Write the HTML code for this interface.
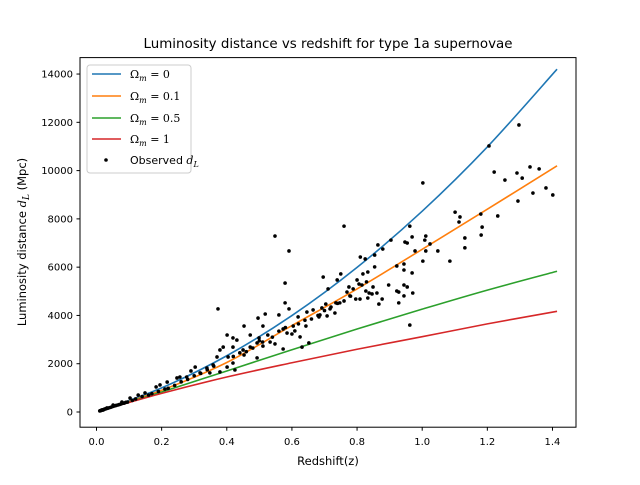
<!DOCTYPE html>
<html><head><meta charset="utf-8"><style>
body{margin:0;background:#fff}
svg text{font-family:"DejaVu Sans","Liberation Sans",sans-serif;fill:#000}
.m{font-family:"DejaVu Serif","Liberation Serif",serif}
</style></head><body>
<svg id="chart" width="640" height="480" viewBox="0 0 640 480" xmlns="http://www.w3.org/2000/svg">
<rect width="640" height="480" fill="#fff"/>
<text x="328" y="48" font-size="13.4" text-anchor="middle">Luminosity distance vs redshift for type 1a supernovae</text>
<g id="plot"></g>
<rect x="80" y="57.6" width="496" height="369.6" fill="none" stroke="#000" stroke-width="1"/>
<g id="xt"></g><g id="yt"></g>
<text x="328" y="465" font-size="11.5" text-anchor="middle">Redshift(z)</text>
<text transform="translate(26,242) rotate(-90)" font-size="11.5" text-anchor="middle">Luminosity distance <tspan class="m" font-style="italic">d</tspan><tspan class="m" font-style="italic" font-size="9" dy="3">L</tspan><tspan dy="-3"> (Mpc)</tspan></text>
<g>
<rect x="87" y="65" width="104" height="108" rx="3" fill="#fff" fill-opacity="0.8" stroke="#ccc"/>
<g id="leg"></g>
</g>
</svg>
<script>
const zGrid=[0.01,0.2,0.4,0.6,0.8,1.0,1.2,1.414];
const dOm0=[42,998,2330,3994,5990,8320,10982,14200];
const dOm01=[42,900,2050,3580,5100,6740,8400,10200];
const dOm05=[42,830,1700,2580,3440,4260,5050,5830];
const dOm1=[42,770,1450,2040,2600,3120,3650,4170];
const obsZ=[1.297,1.205,1.221,1.291,1.307,1.331,1.359,1.254,1.340,1.380,1.401,1.294,1.232,1.180,1.184,1.181,1.101,1.116,1.113,1.131,1.131,1.085,1.048,1.002,1.002,0.962,0.969,1.011,1.008,1.024,1.011,0.978,0.947,0.954,0.969,0.944,0.944,0.922,0.904,0.864,0.854,0.879,0.854,0.897,0.922,0.928,0.944,0.954,0.971,0.944,0.928,0.962,0.760,0.810,0.825,0.833,0.818,0.750,0.739,0.696,0.711,0.800,0.829,0.775,0.788,0.806,0.815,0.849,0.769,0.827,0.837,0.846,0.861,0.778,0.796,0.809,0.833,0.877,0.867,0.747,0.735,0.704,0.717,0.732,0.708,0.692,0.686,
0.548,0.591,0.579,0.373,0.579,0.591,0.518,0.560,0.496,0.453,0.511,0.573,0.604,0.619,0.646,0.665,0.683,0.643,0.609,0.625,0.600,0.585,0.526,0.533,0.548,0.573,0.652,0.631,0.499,0.472,0.493,0.511,0.472,0.493,0.450,0.453,0.431,0.419,0.401,0.389,0.419,0.379,0.370,0.404,0.419,0.425,0.358,0.339,0.303,0.290,0.318,0.348,0.379,0.401,0.256,0.277,0.247,0.217,0.195,0.183,0.149,0.128,0.103,0.078,0.051,0.032,0.020,
0.46,0.48,0.51,0.54,0.56,0.58,0.62,0.64,0.66,0.68,0.70,0.72,0.74,0.76,0.78,0.50,0.44,0.42,0.36,0.34,0.32,0.30,0.28,0.26,0.24,0.22,0.21,0.19,0.17,0.16,0.14,0.12,0.11,0.09,0.08,0.07,0.06,0.05,0.045,0.04,0.035,0.03,0.028,0.025,0.022,0.018,0.016,0.015,0.013,0.012,0.011,0.01,0.055,0.065,0.075,0.085,0.095];
const obsD=[11890,11020,9940,9900,9690,10150,10070,9610,9070,9280,8990,8740,8120,8200,7660,7330,8280,8080,7870,7210,6800,6250,6670,9490,6250,7700,7250,7290,7120,6960,6670,6670,7040,7000,5760,6130,5880,6050,7120,6920,6500,6750,6010,5260,5010,4970,5260,5180,4930,4810,4520,3600,7700,6420,6340,5800,5720,5720,5470,5590,5100,5470,5390,5180,5100,5300,5260,5180,4970,5010,4930,4890,4930,4810,4680,4680,4720,4680,4470,4520,4520,4470,4270,4100,3980,4310,4020,
7290,6670,5340,4270,4520,4270,4060,4020,3890,3560,3560,3440,3560,3940,4140,4230,3940,3560,3360,3110,3230,3270,3190,2900,2820,2610,2860,2690,3070,3190,2860,2730,2690,2240,2570,2360,2980,2690,3190,2690,3070,2570,2280,2280,2030,1740,1950,1820,1860,1700,1620,1620,1660,1860,1450,1450,1410,1240,1120,1040,790,700,580,410,290,170,80,
2500,2650,2900,3100,3350,3500,3650,3800,3850,4000,4200,4350,4500,4600,4800,2950,2450,2300,1900,1750,1600,1500,1350,1250,1100,980,950,850,760,700,640,540,480,400,360,310,270,230,200,180,160,140,130,120,100,90,80,70,60,55,50,45,250,290,330,370,410];
const xTicks=[0,0.2,0.4,0.6,0.8,1.0,1.2,1.4];
const xTickLabels=["0.0","0.2","0.4","0.6","0.8","1.0","1.2","1.4"];
const yTicks=[0,2000,4000,6000,8000,10000,12000,14000];
const yTickLabels=["0","2000","4000","6000","8000","10000","12000","14000"];
const legendLabels=["0","0.1","0.5","1"];
const NS="http://www.w3.org/2000/svg";
const X=z=>96.5+z*325.7;
const Y=d=>412-d*0.02414;
function mk(t,a,p){const e=document.createElementNS(NS,t);for(const k in a)e.setAttribute(k,a[k]);p.appendChild(e);return e;}
const plot=document.getElementById('plot');
const series=[[dOm0,'#1f77b4','line-omega-0'],[dOm01,'#ff7f0e','line-omega-0-1'],[dOm05,'#2ca02c','line-omega-0-5'],[dOm1,'#d62728','line-omega-1']];
series.forEach(s=>{
  const pts=zGrid.map((z,i)=>[X(z),Y(s[0][i])]);
  let d='M'+pts[0][0]+','+pts[0][1];
  for(let i=0;i<pts.length-1;i++){
    const p0=pts[Math.max(0,i-1)],p1=pts[i],p2=pts[i+1],p3=pts[Math.min(pts.length-1,i+2)];
    d+=` C${p1[0]+(p2[0]-p0[0])/6},${p1[1]+(p2[1]-p0[1])/6} ${p2[0]-(p3[0]-p1[0])/6},${p2[1]-(p3[1]-p1[1])/6} ${p2[0]},${p2[1]}`;
  }
  const e=mk('path',{d:d,fill:'none',stroke:s[1],'stroke-width':1.6},plot);
  
  
});
obsZ.forEach((z,i)=>{
  const c=mk('circle',{cx:X(z),cy:Y(obsD[i]),r:1.8,fill:'#000'},plot);
  
  
});
const xt=document.getElementById('xt');
xTicks.forEach((v,i)=>{
  mk('line',{x1:X(v),x2:X(v),y1:427.2,y2:430.7,stroke:'#000'},xt);
  const t=mk('text',{x:X(v),y:445,'font-size':10,'text-anchor':'middle'},xt);t.textContent=xTickLabels[i];
  
  
});
const yt=document.getElementById('yt');
yTicks.forEach((v,i)=>{
  mk('line',{x1:76.5,x2:80,y1:Y(v),y2:Y(v),stroke:'#000'},yt);
  const t=mk('text',{x:73,y:Y(v)+3.5,'font-size':10,'text-anchor':'end'},yt);t.textContent=yTickLabels[i];
  
  
});
const leg=document.getElementById('leg');
const ly=[74,96,118,139];
series.forEach((s,i)=>{
  mk('line',{x1:92,x2:121,y1:ly[i],y2:ly[i],stroke:s[1],'stroke-width':1.6},leg);
  const t=mk('text',{x:130,y:ly[i]+4,'font-size':11,class:'m'},leg);
  t.innerHTML='Ω<tspan font-style="italic" font-size="8" dy="3">m</tspan><tspan dy="-3"> = '+legendLabels[i]+'</tspan>';
  
  
});
mk('circle',{cx:106,cy:160,r:1.8,fill:'#000'},leg);
const lt=mk('text',{x:130,y:164,'font-size':11},leg);
lt.innerHTML='Observed <tspan class="m" font-style="italic">d</tspan><tspan class="m" font-style="italic" font-size="8" dy="3">L</tspan>';


</script>
</body></html>
